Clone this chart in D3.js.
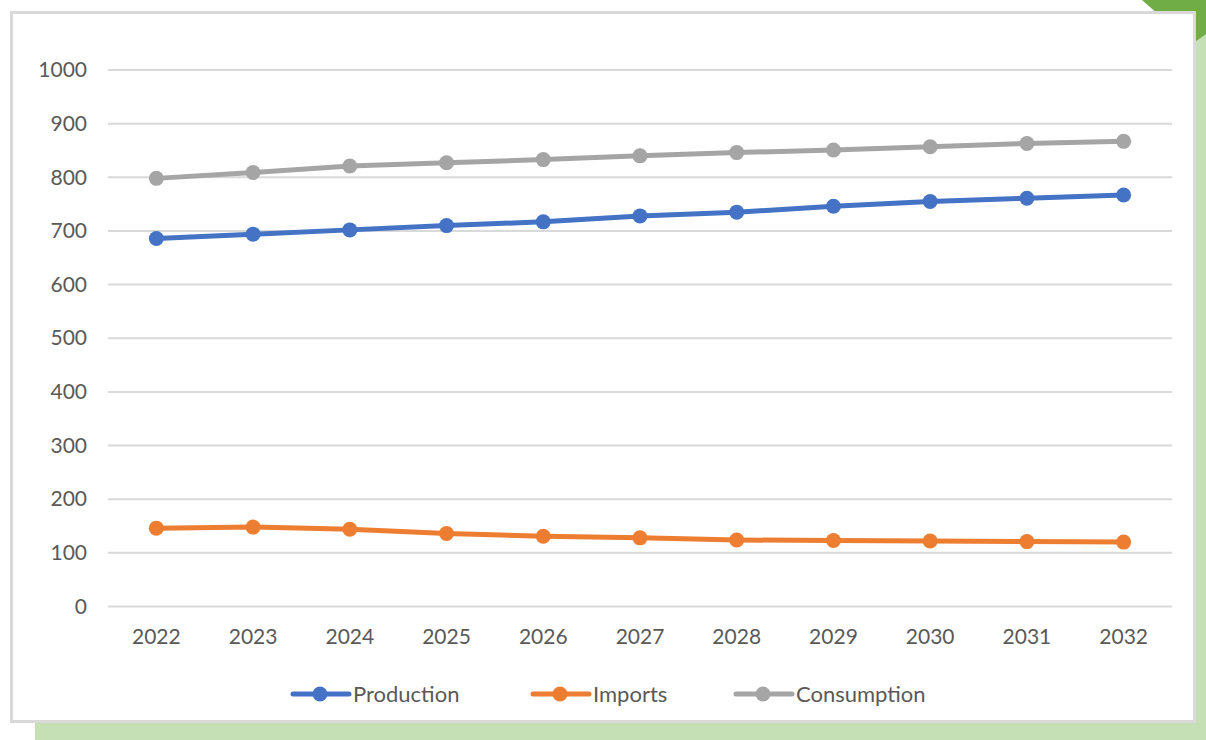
<!DOCTYPE html>
<html>
<head>
<meta charset="utf-8">
<script src="https://cdn.jsdelivr.net/npm/d3@7"></script>
<style>
  html, body { margin: 0; padding: 0; background: #ffffff; }
  svg { display: block; }
  text { font-family: Lato, "Open Sans", sans-serif; fill: #595959; }
</style>
</head>
<body>
<svg id="chart" width="1206" height="740"></svg>
<script>
// Years on the category axis
const years = ["2022", "2023", "2024", "2025", "2026", "2027", "2028", "2029", "2030", "2031", "2032"];

// Series values
const production  = [686, 694, 702, 710, 717, 728, 735, 746, 755, 761, 767];
const imports     = [146, 148, 144, 136, 131, 128, 124, 123, 122, 121, 120];
const consumption = [798, 809, 821, 827, 833, 840, 846, 851, 857, 863, 867];

// Y axis ticks
const yTicks = [0, 100, 200, 300, 400, 500, 600, 700, 800, 900, 1000];

const seriesNames  = ["Production", "Imports", "Consumption"];
const seriesValues = [production, imports, consumption];
const seriesColors = ["#4472c4", "#ed7d31", "#a5a5a5"];

const svg = d3.select("#chart");
const fontStack = "Lato, 'Open Sans', sans-serif";

// Decorative backdrop: light green card, dark green corner, white panel
svg.append("rect")
  .attr("x", 35).attr("y", 30).attr("width", 1171).attr("height", 710)
  .attr("fill", "#c5e0b4");
svg.append("polygon")
  .attr("points", "1142,0 1206,0 1206,34 1192,44")
  .attr("fill", "#70ad47");
svg.append("rect")
  .attr("x", 11.5).attr("y", 12.5).attr("width", 1183).attr("height", 709)
  .attr("fill", "#ffffff").attr("stroke", "#d9d9d9").attr("stroke-width", 3);

const plot = { left: 108, right: 1172, top: 70, bottom: 606.5 };

const x = d3.scaleBand().domain(years).range([plot.left, plot.right]).padding(0);
const y = d3.scaleLinear().domain([0, 1000]).range([plot.bottom, plot.top]);
const cx = d => x(d) + x.bandwidth() / 2;

// Gridlines
svg.append("g")
  .selectAll("line")
  .data(yTicks)
  .join("line")
  .attr("x1", plot.left).attr("x2", plot.right)
  .attr("y1", d => y(d)).attr("y2", d => y(d))
  .attr("stroke", "#d9d9d9").attr("stroke-width", 2);

// Y axis labels
const yAxis = d3.axisLeft(y).tickValues(yTicks).tickFormat(d3.format("d")).tickSize(0).tickPadding(0);
const gy = svg.append("g").attr("transform", `translate(${87},0)`).call(yAxis);
gy.select(".domain").remove();
gy.selectAll("text")
  .attr("font-size", 21).attr("fill", "#595959")
  .style("font-family", fontStack);

// X axis labels
const xAxis = d3.axisBottom(x).tickSize(0).tickPadding(0);
const gx = svg.append("g").attr("transform", `translate(0,${629})`).call(xAxis);
gx.select(".domain").remove();
gx.selectAll("text")
  .attr("font-size", 21).attr("fill", "#595959").attr("dy", "0.71em")
  .style("font-family", fontStack);

// Lines and markers
const line = d3.line().x((d, i) => cx(years[i])).y(d => y(d));

seriesValues.forEach((vals, si) => {
  const g = svg.append("g");
  g.append("path")
    .datum(vals)
    .attr("d", line)
    .attr("fill", "none")
    .attr("stroke", seriesColors[si])
    .attr("stroke-width", 5)
    .attr("stroke-linejoin", "round")
    .attr("stroke-linecap", "round");
  g.selectAll("circle")
    .data(vals)
    .join("circle")
    .attr("cx", (d, i) => cx(years[i]))
    .attr("cy", d => y(d))
    .attr("r", 7.5)
    .attr("fill", seriesColors[si]);
});

// Legend: short line with marker, then the series name
const legendX = [293, 533, 736];
const legendY = 694;
const legend = svg.append("g");
seriesNames.forEach((name, i) => {
  const lg = legend.append("g").attr("transform", `translate(${legendX[i]},${legendY})`);
  lg.append("line")
    .attr("x1", 0).attr("x2", 56).attr("y1", 0).attr("y2", 0)
    .attr("stroke", seriesColors[i]).attr("stroke-width", 5).attr("stroke-linecap", "round");
  lg.append("circle").attr("cx", 27).attr("cy", 0).attr("r", 7.5).attr("fill", seriesColors[i]);
  lg.append("text")
    .attr("x", 60).attr("y", 0).attr("dy", "0.35em")
    .attr("font-size", 22)
    .text(name);
});
</script>
</body>
</html>
